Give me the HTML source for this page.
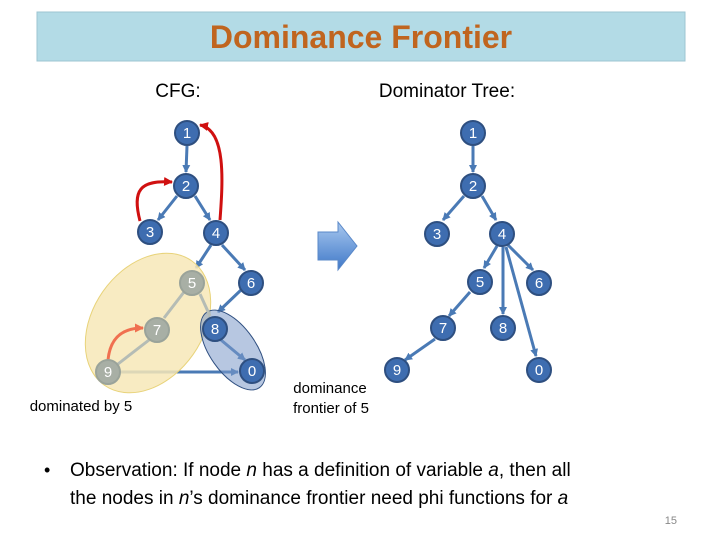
<!DOCTYPE html>
<html><head><meta charset="utf-8"><style>
html,body{margin:0;padding:0;background:#fff;width:720px;height:540px;overflow:hidden}
svg{display:block;font-family:"Liberation Sans",sans-serif}
</style></head><body>
<svg width="720" height="540" viewBox="0 0 720 540" xmlns="http://www.w3.org/2000/svg">
<defs>
<marker id="ab" markerWidth="8" markerHeight="8" refX="7" refY="4" orient="auto" markerUnits="userSpaceOnUse"><path d="M0,0 L8,4 L0,8 z" fill="#4a7ab5"/></marker>
<marker id="ar" markerWidth="9" markerHeight="9" refX="8" refY="4.5" orient="auto" markerUnits="userSpaceOnUse"><path d="M0,0 L9,4.5 L0,9 z" fill="#d01010"/></marker>
<marker id="ao" markerWidth="9" markerHeight="9" refX="8" refY="4.5" orient="auto" markerUnits="userSpaceOnUse"><path d="M0,0 L9,4.5 L0,9 z" fill="#f07050"/></marker>
<linearGradient id="bg" x1="0" y1="0" x2="0" y2="1"><stop offset="0" stop-color="#a8c8ef"/><stop offset="1" stop-color="#3f78c8"/></linearGradient>
</defs>
<rect x="37" y="12" width="648" height="49" fill="#b3dbe6" stroke="#9cc4d2"/>
<text x="361" y="48" text-anchor="middle" font-size="32" font-weight="bold" fill="#c0651f">Dominance Frontier</text>
<text x="178" y="97" text-anchor="middle" font-size="19">CFG:</text>
<text x="447" y="97" text-anchor="middle" font-size="19">Dominator Tree:</text>

<!-- CFG edges -->
<g stroke="#4a7ab5" stroke-width="3" fill="none" marker-end="url(#ab)">
<line x1="187" y1="146" x2="186" y2="172"/>
<line x1="177" y1="196" x2="158" y2="220"/>
<line x1="195" y1="196" x2="210" y2="220"/>
<line x1="211" y1="245" x2="196" y2="268"/>
<line x1="222" y1="245" x2="245" y2="270"/>
<line x1="241" y1="290" x2="218" y2="312"/>
<line x1="221" y1="340" x2="245" y2="360"/>
<line x1="120" y1="372" x2="238" y2="372"/>
</g>
<path d="M140,221 C132,190 140,180 172,182" stroke="#d01010" stroke-width="3" fill="none" marker-end="url(#ar)"/>
<path d="M220,220 C223,180 226,130 200,125" stroke="#d01010" stroke-width="3" fill="none" marker-end="url(#ar)"/>
<!-- ellipses -->
<ellipse cx="148" cy="323" rx="55" ry="76" transform="rotate(35 148 323)" fill="#f7e7b7" fill-opacity="0.85" stroke="#e8d37a"/>
<ellipse cx="233" cy="350" rx="23" ry="46" transform="rotate(-35 233 350)" fill="#7b99c9" fill-opacity="0.55" stroke="#2f4f80"/>
<g stroke="#b5bcb5" stroke-width="3" fill="none">
<line x1="184" y1="292" x2="164" y2="318"/>
<line x1="149" y1="340" x2="118" y2="364"/>
<line x1="200" y1="294" x2="210" y2="316"/>
</g>
<path d="M108,360 C110,340 120,328 143,328" stroke="#f07050" stroke-width="3" fill="none" marker-end="url(#ao)"/>
<g font-size="15" fill="#fff" text-anchor="middle">
<g fill="#3e6db0" stroke="#2e4f80" stroke-width="2">
<circle cx="187" cy="133" r="12"/><circle cx="186" cy="186" r="12"/><circle cx="150" cy="232" r="12"/><circle cx="216" cy="233" r="12"/><circle cx="251" cy="283" r="12"/><circle cx="215" cy="329" r="12"/><circle cx="252" cy="371" r="12"/>
</g>
<g fill="#a8afa5" stroke="#9aa39a" stroke-width="2">
<circle cx="192" cy="283" r="12"/><circle cx="157" cy="330" r="12"/><circle cx="108" cy="372" r="12"/>
</g>
<text x="187" y="138">1</text><text x="186" y="191">2</text><text x="150" y="237">3</text><text x="216" y="238">4</text><text x="192" y="288">5</text><text x="251" y="288">6</text><text x="157" y="335">7</text><text x="215" y="334">8</text><text x="108" y="377">9</text><text x="252" y="376">0</text>
</g>

<!-- block arrow -->
<path d="M318,232 L338,232 L338,222 L357,246 L338,270 L338,260 L318,260 z" fill="url(#bg)" stroke="#5a88c8"/>

<!-- Dom tree edges -->
<g stroke="#4a7ab5" stroke-width="3" fill="none" marker-end="url(#ab)">
<line x1="473" y1="146" x2="473" y2="172"/>
<line x1="464" y1="196" x2="443" y2="220"/>
<line x1="482" y1="196" x2="496" y2="220"/>
<line x1="497" y1="246" x2="484" y2="268"/>
<line x1="508" y1="245" x2="533" y2="270"/>
<line x1="503" y1="247" x2="503" y2="314"/>
<line x1="506" y1="247" x2="536" y2="356"/>
<line x1="470" y1="292" x2="449" y2="316"/>
<line x1="435" y1="339" x2="405" y2="360"/>
</g>
<g font-size="15" fill="#fff" text-anchor="middle">
<g fill="#3e6db0" stroke="#2e4f80" stroke-width="2">
<circle cx="473" cy="133" r="12"/><circle cx="473" cy="186" r="12"/><circle cx="437" cy="234" r="12"/><circle cx="502" cy="234" r="12"/><circle cx="480" cy="282" r="12"/><circle cx="539" cy="283" r="12"/><circle cx="443" cy="328" r="12"/><circle cx="503" cy="328" r="12"/><circle cx="397" cy="370" r="12"/><circle cx="539" cy="370" r="12"/>
</g>
<text x="473" y="138">1</text><text x="473" y="191">2</text><text x="437" y="239">3</text><text x="502" y="239">4</text><text x="480" y="287">5</text><text x="539" y="288">6</text><text x="443" y="333">7</text><text x="503" y="333">8</text><text x="397" y="375">9</text><text x="539" y="375">0</text>
</g>

<text x="81" y="411" text-anchor="middle" font-size="15">dominated by 5</text>
<text x="330" y="393" text-anchor="middle" font-size="15">dominance</text>
<text x="331" y="413" text-anchor="middle" font-size="15">frontier of 5</text>

<text x="44" y="476" font-size="18">•</text>
<text x="70" y="476" font-size="19">Observation: If node <tspan font-style="italic">n</tspan> has a definition of variable <tspan font-style="italic">a</tspan>, then all</text>
<text x="70" y="504" font-size="19">the nodes in <tspan font-style="italic">n</tspan>’s dominance frontier need phi functions for <tspan font-style="italic">a</tspan></text>
<text x="677" y="524" text-anchor="end" font-size="11" fill="#888">15</text>
</svg>
</body></html>
